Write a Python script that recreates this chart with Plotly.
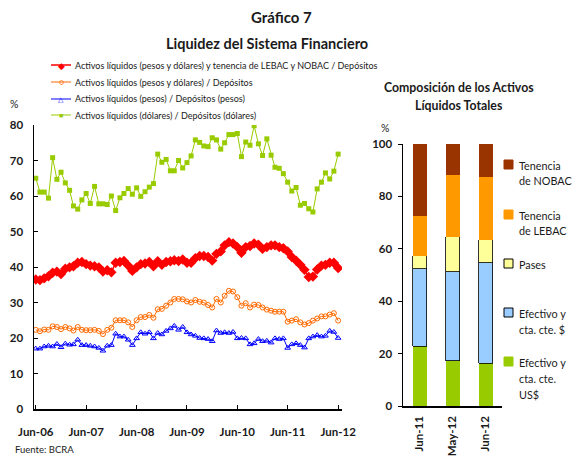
import pandas as pd
import plotly.graph_objects as go

W, H = 574, 456

# ---------------- data ----------------
months = pd.date_range("2006-06-01", periods=73, freq="MS")

total_lebac_nobac = [36.5, 36.3, 36.8, 37.4, 38.4, 38.7, 38.0, 39.5, 39.9, 40.2, 41.2, 41.4,
                     40.8, 40.4, 40.2, 39.9, 38.7, 39.1, 38.5, 41.2, 41.4, 41.7, 40.4, 38.9,
                     39.9, 40.8, 41.0, 41.4, 40.2, 41.6, 40.6, 41.4, 41.6, 41.9, 41.7, 42.1,
                     41.2, 41.2, 42.5, 43.1, 43.1, 42.8, 41.8, 43.7, 44.4, 46.1, 47.0, 46.6,
                     45.6, 44.0, 45.6, 45.9, 46.6, 46.3, 45.1, 45.6, 46.1, 46.1, 45.6, 45.3,
                     44.4, 42.8, 41.8, 40.6, 39.2, 37.2, 37.3, 39.3, 40.4, 40.6, 41.2, 41.2,
                     39.7]

total_dep = [22.3, 21.9, 22.4, 22.3, 23.3, 23.1, 22.5, 23.1, 22.7, 22.1, 23.1, 22.3,
             22.2, 22.2, 22.3, 22.0, 21.1, 22.3, 22.9, 25.0, 25.0, 25.0, 24.4, 23.1,
             25.0, 25.9, 25.9, 26.5, 25.7, 28.1, 28.2, 29.1, 30.0, 31.0, 31.0, 30.9,
             30.3, 30.0, 30.7, 30.2, 30.0, 29.3, 28.6, 31.0, 30.0, 31.9, 33.3, 33.1,
             31.5, 29.1, 29.8, 28.6, 29.4, 29.3, 28.6, 28.0, 27.7, 27.4, 27.4, 27.4,
             24.6, 24.9, 25.3, 24.4, 23.8, 24.2, 24.9, 25.5, 26.1, 26.1, 26.6, 27.0,
             24.9]

pesos_dep = [17.0, 17.0, 17.6, 17.8, 17.6, 18.3, 17.4, 18.4, 18.1, 18.2, 19.5, 18.0,
             18.0, 17.8, 17.6, 17.2, 16.4, 17.8, 18.0, 21.2, 20.4, 20.4, 19.5, 18.0,
             19.9, 21.6, 21.2, 21.6, 19.9, 21.4, 21.0, 22.0, 22.7, 23.4, 22.3, 23.1,
             21.6, 21.0, 20.6, 20.0, 19.9, 19.7, 19.1, 22.1, 21.4, 21.6, 21.4, 21.7,
             19.9, 20.0, 19.9, 18.2, 18.5, 19.7, 19.1, 19.2, 18.7, 19.9, 19.7, 19.9,
             17.2, 18.2, 18.5, 18.0, 17.3, 19.9, 20.4, 20.8, 20.4, 20.6, 22.0, 21.7,
             20.0]

dolares_dep = [65.0, 61.1, 61.1, 59.4, 70.8, 64.7, 66.7, 63.7, 61.6, 57.2, 56.3, 58.9,
               60.7, 57.9, 62.7, 57.8, 57.8, 57.6, 60.0, 55.9, 59.5, 60.7, 62.1, 60.5,
               62.3, 59.9, 61.2, 62.5, 63.5, 71.8, 69.5, 70.3, 67.1, 67.1, 70.0, 67.9,
               69.4, 71.3, 75.8, 75.1, 74.1, 73.9, 76.4, 75.8, 73.2, 75.0, 77.3, 77.3,
               77.6, 71.1, 75.2, 74.3, 79.8, 74.7, 71.4, 76.1, 71.5, 68.1, 67.8, 66.3,
               63.9, 61.4, 62.4, 57.4, 57.9, 56.4, 55.5, 62.0, 63.9, 66.5, 64.8, 67.0,
               71.8]

x_tick_dates = ["2006-06-01", "2007-06-01", "2008-06-01", "2009-06-01",
                "2010-06-01", "2011-06-01", "2012-06-01"]
x_tick_text = ["Jun-06", "Jun-07", "Jun-08", "Jun-09", "Jun-10", "Jun-11", "Jun-12"]

bar_cats = ["Jun-11", "May-12", "Jun-12"]
efectivo_usd = [22.8, 17.2, 16.3]
efectivo_ars = [29.5, 34.1, 38.3]
pases = [5.0, 13.3, 8.8]
lebac = [15.3, 23.7, 24.0]
nobac = [27.4, 11.7, 12.6]

# ---------------- helpers (pixel -> paper) ----------------
def px(x):
    return x / W

def py(y):
    return 1 - y / H

FONT = "Lato"
TXT = "#1a1a1a"

fig = go.Figure()

# ---------------- left chart ----------------
fig.add_trace(go.Scatter(x=months, y=dolares_dep, mode="lines+markers",
                         line=dict(color="#99CC00", width=1),
                         marker=dict(symbol="square", size=5, color="#99CC00"),
                         name="Activos líquidos (dólares) / Depósitos (dólares)",
                         xaxis="x", yaxis="y", showlegend=False))
fig.add_trace(go.Scatter(x=months, y=total_lebac_nobac, mode="lines+markers",
                         line=dict(color="#FF0000", width=1.5),
                         marker=dict(symbol="diamond", size=8, color="#FF0000"),
                         name="Activos líquidos (pesos y dólares) y tenencia de LEBAC y NOBAC / Depósitos",
                         xaxis="x", yaxis="y", showlegend=False))
fig.add_trace(go.Scatter(x=months, y=total_dep, mode="lines+markers",
                         line=dict(color="#FF6A00", width=1),
                         marker=dict(symbol="circle-open", size=5, color="#FF6A00",
                                     line=dict(width=1)),
                         name="Activos líquidos (pesos y dólares) / Depósitos",
                         xaxis="x", yaxis="y", showlegend=False))
fig.add_trace(go.Scatter(x=months, y=pesos_dep, mode="lines+markers",
                         line=dict(color="#0000FF", width=1),
                         marker=dict(symbol="triangle-up-open", size=5, color="#0000FF",
                                     line=dict(width=1)),
                         name="Activos líquidos (pesos) / Depósitos (pesos)",
                         xaxis="x", yaxis="y", showlegend=False))

# ---------------- right chart ----------------
bar_specs = [
    ("Efectivo y cta. cte. US$", efectivo_usd, "#99CC00", 0),
    ("Efectivo y cta. cte. $", efectivo_ars, "#99CCFF", 0.8),
    ("Pases", pases, "#FFFF99", 0.8),
    ("Tenencia de LEBAC", lebac, "#FF9900", 0),
    ("Tenencia de NOBAC", nobac, "#993300", 0),
]
for name, vals, col, lw in bar_specs:
    fig.add_trace(go.Bar(x=bar_cats, y=vals, name=name, marker_color=col,
                         marker_line=dict(color="#000000", width=lw),
                         xaxis="x2", yaxis="y2", showlegend=False))

axis_line = dict(showline=True, linecolor="#000000", linewidth=1.5,
                 showgrid=False, zeroline=False, automargin=False)

fig.update_layout(
    width=W, height=H,
    margin=dict(l=0, r=0, t=0, b=0),
    paper_bgcolor="white", plot_bgcolor="white",
    font=dict(family=FONT, color=TXT, size=11),
    barmode="stack", bargap=0.576,
    xaxis=dict(domain=[px(34), px(342)], anchor="y", type="date",
               range=["2006-05-19", "2012-06-29"],
               tickvals=x_tick_dates, ticktext=x_tick_text,
               ticks="inside", ticklen=4, tickcolor="#000000",
               tickfont=dict(family=FONT, size=11.5, color=TXT, weight="bold"),
               ticklabelstandoff=12, **axis_line),
    yaxis=dict(domain=[py(409), py(125)], anchor="x", range=[0, 80],
               tickvals=[0, 10, 20, 30, 40, 50, 60, 70, 80],
               ticks="inside", ticklen=4, tickcolor="#000000",
               tickfont=dict(family=FONT, size=11.5, color=TXT, weight="bold"),
               ticklabelstandoff=7, **axis_line),
    xaxis2=dict(domain=[px(403), px(502)], anchor="y2", type="category",
                range=[-0.5, 2.5], tickangle=-90, ticks="",
                tickfont=dict(family=FONT, size=11.5, color=TXT, weight="bold"),
                ticklabelstandoff=4, **axis_line),
    yaxis2=dict(domain=[py(406), py(144)], anchor="x2", range=[0, 100],
                tickvals=[0, 20, 40, 60, 80, 100],
                ticks="outside", ticklen=4, tickcolor="#000000",
                tickfont=dict(family=FONT, size=11.5, color=TXT, weight="bold"),
                ticklabelstandoff=3, **axis_line),
)

annotations = []

def text(x, y, s, size=11, bold=False, xanchor="center", color=TXT):
    annotations.append(dict(x=px(x), y=py(y), xref="paper", yref="paper", text=s,
                            showarrow=False, xanchor=xanchor, yanchor="middle",
                            font=dict(family=FONT, size=size, color=color,
                                      weight="bold" if bold else "normal")))

# titles
text(281, 17, "Gráfico 7", size=15, bold=True)
text(267, 44, "Liquidez del Sistema Financiero", size=14.5, bold=True)
text(459, 88, "Composición de los Activos", size=12.3, bold=True)
text(459, 106, "Líquidos Totales", size=12.3, bold=True)
text(14, 104, "%", size=10.5)
text(385, 128, "%", size=10.5)
text(13, 449, "Fuente: BCRA", size=9.5, xanchor="left")

# left legend (manual)
shapes = []
left_legend = [
    (65, "#FF0000", "◆", 9, "Activos líquidos (pesos y dólares) y tenencia de LEBAC y NOBAC / Depósitos"),
    (82, "#FF6A00", "○", 8, "Activos líquidos (pesos y dólares) / Depósitos"),
    (99, "#0000FF", "△", 7, "Activos líquidos (pesos) / Depósitos (pesos)"),
    (115, "#99CC00", "■", 7, "Activos líquidos (dólares) / Depósitos (dólares)"),
]
for yy, col, glyph, gsize, label in left_legend:
    shapes.append(dict(type="line", xref="paper", yref="paper",
                       x0=px(51), x1=px(71), y0=py(yy), y1=py(yy),
                       line=dict(color=col, width=1.5 if col == "#FF0000" else 1)))
    text(61, yy, glyph, size=gsize, color=col)
    text(73, yy, label, size=9.0, xanchor="left")

# right legend (manual)
right_legend = [
    (160, "#993300", 0, ["Tenencia", "de NOBAC"]),
    (210, "#FF9900", 0, ["Tenencia", "de LEBAC"]),
    (259, "#FFFF99", 1, ["Pases"]),
    (308, "#99CCFF", 1, ["Efectivo y", "cta. cte. $"]),
    (357, "#99CC00", 0, ["Efectivo y", "cta. cte.", "US$"]),
]
for top, col, border, lines in right_legend:
    shapes.append(dict(type="rect", xref="paper", yref="paper",
                       x0=px(504), x1=px(513), y0=py(top), y1=py(top + 9),
                       fillcolor=col,
                       line=dict(color="#000000" if border else col, width=1)))
    for k, ln in enumerate(lines):
        text(517, top + 5 + 16 * k, ln, size=10.8, xanchor="left")

fig.update_layout(annotations=annotations, shapes=shapes)

fig.write_html("out.html",
               config={"displayModeBar": False, "staticPlot": True},
               post_script="document.body.style.margin='0';document.body.style.overflow='hidden';")
